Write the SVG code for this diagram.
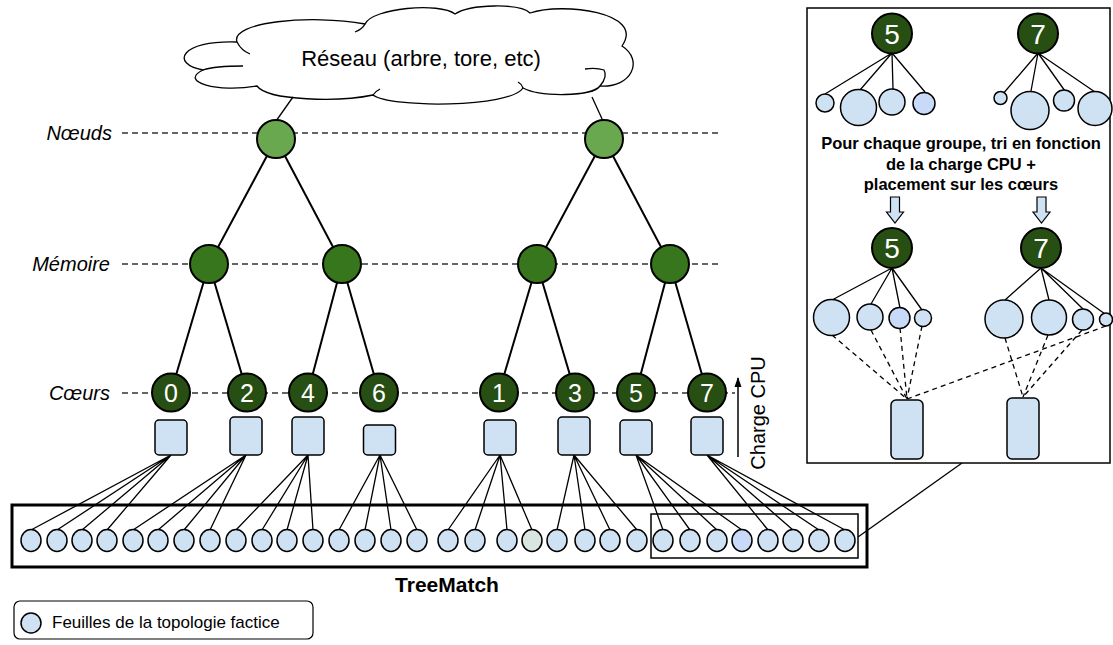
<svg xmlns="http://www.w3.org/2000/svg" width="1113" height="645" viewBox="0 0 1113 645">
<style>
text{font-family:"Liberation Sans",Arial,sans-serif}
.lbl{font-size:20px;font-style:italic;text-anchor:end}
.guide{stroke:#333;stroke-width:1.4;stroke-dasharray:6 4;fill:none}
.edge{stroke:#000;stroke-width:2;fill:none}
.thin{stroke:#000;stroke-width:1.3;fill:none}
.dash{stroke:#000;stroke-width:1.3;stroke-dasharray:5 4;fill:none}
.n1{fill:#6aa84f;stroke:#000;stroke-width:2}
.n2{fill:#38761d;stroke:#000;stroke-width:2}
.n3{fill:#274e13;stroke:#000;stroke-width:2}
.dig{fill:#fff;font-size:25px;text-anchor:middle}
.dig2{fill:#fff;font-size:28px;text-anchor:middle}
.box{fill:#cfe2f3;stroke:#000;stroke-width:1.5}
.leaf{fill:#cfe2f3;stroke:#000;stroke-width:1.5}
</style>
<defs>
<marker id="ah" markerWidth="10" markerHeight="8" refX="9" refY="4" orient="auto" markerUnits="userSpaceOnUse" viewBox="0 0 10 8">
<path d="M0,0.5 L10,4 L0,7.5 Z" fill="#000"/>
</marker>
</defs>

<!-- guides and labels -->
<g id="levels">
<line class="guide" x1="122" y1="133" x2="722" y2="133"/>
<line class="guide" x1="122" y1="264" x2="722" y2="264"/>
<line class="guide" x1="122" y1="393" x2="735" y2="393"/>
<text class="lbl" x="112" y="140">Nœuds</text>
<text class="lbl" x="110" y="271">Mémoire</text>
<text class="lbl" x="110" y="400">Cœurs</text>
</g>

<!-- cloud -->
<g id="cloud">
<path d="M257,86 C218,93 178,82 203,70 C170,64 180,40 237,42 C230,22 310,14 365,24 C372,8 440,2 455,14 C470,4 520,3 530,13 C562,2 646,12 622,46 C644,60 632,88 600,86 C592,97 540,97 523,88 C510,108 390,108 373,95 C340,102 268,101 257,86 Z" fill="#fff" stroke="#000" stroke-width="1.3"/>
<path d="M203,70 C215,66 230,66 243,66" class="thin"/>
<path d="M237,42 C240,48 245,52 250,54" class="thin"/>
<path d="M365,24 C363,28 360,30 355,32" class="thin"/>
<path d="M600,86 C605,80 607,75 604,70 C598,68 592,68 585,69" class="thin"/>
<path d="M523,88 C522,85 520,83 518,82" class="thin"/>
<path d="M373,95 C375,92 378,90 380,89" class="thin"/>
<text x="421" y="66" font-size="22" text-anchor="middle">Réseau (arbre, tore, etc)</text>
</g>

<!-- connectors -->
<g id="connectors">
<line class="thin" x1="293" y1="97" x2="276" y2="121"/>
<line class="thin" x1="592" y1="97" x2="603" y2="121"/>
<line class="edge" x1="276" y1="139" x2="209" y2="264"/>
<line class="edge" x1="276" y1="139" x2="342" y2="264"/>
<line class="edge" x1="604" y1="139" x2="537" y2="264"/>
<line class="edge" x1="604" y1="139" x2="670" y2="264"/>
<line class="edge" x1="209" y1="264" x2="171" y2="392"/>
<line class="edge" x1="209" y1="264" x2="247" y2="392"/>
<line class="edge" x1="342" y1="264" x2="308" y2="392"/>
<line class="edge" x1="342" y1="264" x2="379" y2="392"/>
<line class="edge" x1="537" y1="264" x2="499" y2="392"/>
<line class="edge" x1="537" y1="264" x2="575" y2="392"/>
<line class="edge" x1="670" y1="264" x2="636" y2="392"/>
<line class="edge" x1="670" y1="264" x2="707" y2="392"/>
<g class="thin">
<path d="M171,455L31,530M171,455L57,530M171,455L82,530M171,455L107,530"/>
<path d="M246,455L133,530M246,455L158,530M246,455L184,530M246,455L210,530"/>
<path d="M308,455L236,530M308,455L262,530M308,455L287,530M308,455L313,530"/>
<path d="M380,455L339,530M380,455L365,530M380,455L391,530M380,455L417,530"/>
<path d="M500,455L448,530M500,455L475,530M500,455L507,530M500,455L532,530"/>
<path d="M574,455L557,530M574,455L585,530M574,455L610,530M574,455L637,530"/>
<path d="M636,455L663,530M636,455L690,530M636,455L717,530M636,455L742,530"/>
<path d="M707,455L768,530M707,455L793,530M707,455L819,530M707,455L845,530"/>
</g>
<line class="thin" x1="858" y1="537" x2="962" y2="463"/>
<line x1="738" y1="457" x2="738" y2="378" stroke="#000" stroke-width="1.5" marker-end="url(#ah)"/>
</g>

<g id="noeud-a"><circle class="n1" cx="276" cy="139" r="19"/></g>
<g id="noeud-b"><circle class="n1" cx="604" cy="139" r="19"/></g>
<g id="mem-a"><circle class="n2" cx="209" cy="264" r="19"/></g>
<g id="mem-b"><circle class="n2" cx="342" cy="264" r="19"/></g>
<g id="mem-c"><circle class="n2" cx="537" cy="264" r="19"/></g>
<g id="mem-d"><circle class="n2" cx="670" cy="264" r="19"/></g>

<g id="core-0"><circle class="n3" cx="171" cy="392.5" r="19"/><text class="dig" x="171" y="401.5">0</text></g>
<g id="core-2"><circle class="n3" cx="247" cy="392.5" r="19"/><text class="dig" x="247" y="401.5">2</text></g>
<g id="core-4"><circle class="n3" cx="308" cy="392.5" r="19"/><text class="dig" x="308" y="401.5">4</text></g>
<g id="core-6"><circle class="n3" cx="379" cy="392.5" r="19"/><text class="dig" x="379" y="401.5">6</text></g>
<g id="core-1"><circle class="n3" cx="499" cy="392.5" r="19"/><text class="dig" x="499" y="401.5">1</text></g>
<g id="core-3"><circle class="n3" cx="575" cy="392.5" r="19"/><text class="dig" x="575" y="401.5">3</text></g>
<g id="core-5"><circle class="n3" cx="636" cy="392.5" r="19"/><text class="dig" x="636" y="401.5">5</text></g>
<g id="core-7"><circle class="n3" cx="707" cy="392.5" r="19"/><text class="dig" x="707" y="401.5">7</text></g>

<g id="box-0"><rect class="box" x="155" y="420" width="32" height="35" rx="4"/></g>
<g id="box-2"><rect class="box" x="230" y="417" width="32" height="38" rx="4"/></g>
<g id="box-4"><rect class="box" x="292" y="417" width="32" height="38" rx="4"/></g>
<g id="box-6"><rect class="box" x="363.5" y="425" width="32" height="30" rx="4"/></g>
<g id="box-1"><rect class="box" x="484" y="420" width="32" height="35" rx="4"/></g>
<g id="box-3"><rect class="box" x="558" y="417" width="32" height="38" rx="4"/></g>
<g id="box-5"><rect class="box" x="620" y="420" width="32" height="35" rx="4"/></g>
<g id="box-7"><rect class="box" x="691" y="417" width="32" height="38" rx="4"/></g>

<text x="0" y="0" font-size="20" text-anchor="middle" transform="translate(765,413) rotate(-90)">Charge CPU</text>

<g id="treematch">
<rect x="12" y="505" width="855" height="62" fill="none" stroke="#000" stroke-width="3"/>
<rect x="651" y="514" width="207" height="44" fill="none" stroke="#000" stroke-width="1.5"/>
<g id="leaves">
<ellipse class="leaf" cx="31" cy="540.5" rx="10" ry="11"/>
<ellipse class="leaf" cx="57" cy="540.5" rx="10" ry="11"/>
<ellipse class="leaf" cx="82" cy="540.5" rx="10" ry="11"/>
<ellipse class="leaf" cx="107" cy="540.5" rx="10" ry="11"/>
<ellipse class="leaf" cx="133" cy="540.5" rx="10" ry="11"/>
<ellipse class="leaf" cx="158" cy="540.5" rx="10" ry="11"/>
<ellipse class="leaf" cx="184" cy="540.5" rx="10" ry="11"/>
<ellipse class="leaf" cx="210" cy="540.5" rx="10" ry="11"/>
<ellipse class="leaf" cx="236" cy="540.5" rx="10" ry="11"/>
<ellipse class="leaf" cx="262" cy="540.5" rx="10" ry="11"/>
<ellipse class="leaf" cx="287" cy="540.5" rx="10" ry="11"/>
<ellipse class="leaf" cx="313" cy="540.5" rx="10" ry="11"/>
<ellipse class="leaf" cx="339" cy="540.5" rx="10" ry="11"/>
<ellipse class="leaf" cx="365" cy="540.5" rx="10" ry="11"/>
<ellipse class="leaf" cx="391" cy="540.5" rx="10" ry="11"/>
<ellipse class="leaf" cx="417" cy="540.5" rx="10" ry="11"/>
<ellipse class="leaf" cx="448" cy="540.5" rx="10" ry="11"/>
<ellipse class="leaf" cx="475" cy="540.5" rx="10" ry="11"/>
<ellipse class="leaf" cx="507" cy="540.5" rx="10" ry="11"/>
<ellipse class="leaf" cx="532" cy="540.5" rx="10" ry="11" style="fill:#d9e5e0"/>
<ellipse class="leaf" cx="557" cy="540.5" rx="10" ry="11"/>
<ellipse class="leaf" cx="585" cy="540.5" rx="10" ry="11"/>
<ellipse class="leaf" cx="610" cy="540.5" rx="10" ry="11"/>
<ellipse class="leaf" cx="637" cy="540.5" rx="10" ry="11"/>
<ellipse class="leaf" cx="663" cy="540.5" rx="10" ry="11"/>
<ellipse class="leaf" cx="690" cy="540.5" rx="10" ry="11"/>
<ellipse class="leaf" cx="717" cy="540.5" rx="10" ry="11"/>
<ellipse class="leaf" cx="742" cy="540.5" rx="10" ry="11" style="fill:#c9daf8"/>
<ellipse class="leaf" cx="768" cy="540.5" rx="10" ry="11"/>
<ellipse class="leaf" cx="793" cy="540.5" rx="10" ry="11"/>
<ellipse class="leaf" cx="819" cy="540.5" rx="10" ry="11"/>
<ellipse class="leaf" cx="845" cy="540.5" rx="10" ry="11"/>
</g>
<text x="447" y="592" font-size="21" font-weight="bold" text-anchor="middle">TreeMatch</text>
</g>

<g id="panel">
<rect x="807" y="8" width="303" height="455" fill="#fff" stroke="#000" stroke-width="1.5"/>
<g class="thin">
<path d="M892,53L825,94M892,53L860,90M892,53L893,89M892,53L925,92"/>
<path d="M1038,53L1002,95M1038,53L1031,91M1038,53L1065,91M1038,53L1095,92"/>
<path d="M892,268L832,300M892,268L871,304M892,268L900,308M892,268L922,310"/>
<path d="M1041,268L1005,300M1041,268L1049,300M1041,268L1083,309M1041,268L1105,314"/>
</g>
<g class="dash">
<path d="M832,335L907,399M871,330L907,399M900,328L907,399M922,326L907,399M1106,326L907,399"/>
<path d="M1005,338L1023,397M1048,335L1023,397M1082,330L1023,397"/>
</g>
<g id="p-top5"><circle class="n3" cx="892" cy="33.5" r="20"/><text class="dig2" x="892" y="43.5">5</text></g>
<g id="p-top7"><circle class="n3" cx="1038" cy="33.5" r="20"/><text class="dig2" x="1038" y="43.5">7</text></g>
<circle class="leaf" cx="825" cy="103" r="9"/>
<circle class="leaf" cx="858.5" cy="107.5" r="18"/>
<circle class="leaf" cx="892" cy="102" r="13"/>
<circle class="leaf" cx="924" cy="103.5" r="11" style="fill:#c9daf8"/>
<circle class="leaf" cx="1000.5" cy="98" r="6.5"/>
<circle class="leaf" cx="1030" cy="110.5" r="19"/>
<circle class="leaf" cx="1064" cy="100.5" r="10.5"/>
<circle class="leaf" cx="1095" cy="108.5" r="17"/>
<g font-size="16.5" font-weight="bold" text-anchor="middle">
<text x="961" y="149">Pour chaque groupe, tri en fonction</text>
<text x="961" y="170">de la charge CPU +</text>
<text x="961" y="190">placement sur les cœurs</text>
</g>
<path d="M890.5,197H899.5V212H903.5L895,223L886.5,212H890.5Z" fill="#cfe2f3" stroke="#000" stroke-width="1.2"/>
<path d="M1037,197H1046V212H1050L1041.5,223L1033,212H1037Z" fill="#cfe2f3" stroke="#000" stroke-width="1.2"/>
<g id="p-mid5"><circle class="n3" cx="892" cy="248" r="20"/><text class="dig2" x="892" y="258">5</text></g>
<g id="p-mid7"><circle class="n3" cx="1041" cy="248" r="20"/><text class="dig2" x="1041" y="258">7</text></g>
<circle class="leaf" cx="831.5" cy="317.5" r="18"/>
<circle class="leaf" cx="870" cy="317" r="13"/>
<circle class="leaf" cx="899.5" cy="318" r="10.5" style="fill:#c9daf8"/>
<circle class="leaf" cx="923" cy="318" r="8.5"/>
<circle class="leaf" cx="1004" cy="319" r="19"/>
<circle class="leaf" cx="1049" cy="317.5" r="17.5"/>
<circle class="leaf" cx="1083" cy="319.5" r="10.5"/>
<circle class="leaf" cx="1106" cy="319.5" r="6.5"/>
<rect class="box" x="891" y="400" width="32" height="59" rx="5"/>
<rect class="box" x="1007" y="398" width="32" height="61" rx="5"/>
</g>

<g id="legend">
<rect x="14" y="601" width="299" height="38" rx="6" fill="#fff" stroke="#000" stroke-width="1.2"/>
<circle class="leaf" cx="31" cy="623" r="10"/>
<text x="52" y="628" font-size="17">Feuilles de la topologie factice</text>
</g>
</svg>
